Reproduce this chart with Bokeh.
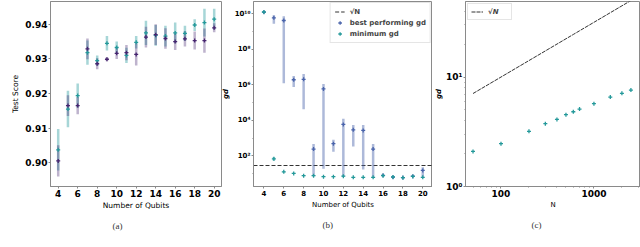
import numpy as np
from bokeh.plotting import figure
from bokeh.layouts import row
from bokeh.models import FixedTicker, Legend, LegendItem, Range1d, Title
from bokeh.embed import file_html
from bokeh.resources import INLINE

# ---------------- data ----------------
qubits = list(range(4, 21))
a_xticks = [4, 6, 8, 10, 12, 14, 16, 18, 20]
a_yticks = [0.90, 0.91, 0.92, 0.93, 0.94]
a_ylabels = {0.90: "0.90", 0.91: "0.91", 0.92: "0.92", 0.93: "0.93", 0.94: "0.94"}

a_purple = [0.9005, 0.9165, 0.9165, 0.9329, 0.9286, 0.9299, 0.9316, 0.9318, 0.9313,
            0.9363, 0.9370, 0.9359, 0.9350, 0.9358, 0.9353, 0.9353, 0.9390]
a_purple_err = [0.0045, 0.0030, 0.0025, 0.0030, 0.0016, 0.0006, 0.0016, 0.0022, 0.0032,
                0.0030, 0.0030, 0.0030, 0.0024, 0.0022, 0.0026, 0.0035, 0.0013]
a_teal = [0.9037, 0.9155, 0.9194, 0.9318, 0.9295, 0.9345, 0.9333, 0.9310, 0.9348,
          0.9375, 0.9368, 0.9366, 0.9375, 0.9374, 0.9398, 0.9405, 0.9415]
a_teal_err = [0.0060, 0.0053, 0.0035, 0.0035, 0.0015, 0.0021, 0.0017, 0.0022, 0.0018,
              0.0035, 0.0030, 0.0030, 0.0030, 0.0022, 0.0017, 0.0040, 0.0030]

b_best = [1.2e10, 5.8e9, 4.1e9, 1.9e6, 2.0e6, 240, 5.8e5, 480, 5.8e3,
          2.9e3, 2.7e3, 240, 8.0, 6.3, 6.0, 7.2, 15]
b_best_lo = [1.1e10, 2.7e9, 1.2e6, 7.4e5, 4.2e4, 7.2, 19, 170, 6.5,
             330, 17, 6.5, 7.0, 6.0, 5.7, 6.6, 5.9]
b_best_hi = [1.3e10, 8.1e9, 7.1e9, 3.1e6, 4.0e6, 460, 1.1e6, 800, 1.2e4,
             5.5e3, 5.5e3, 460, 9.0, 6.7, 6.3, 7.8, 23]
b_min = [1.23e10, 68, 12.6, 10.2, 7.6, 7.6, 6.7, 6.7, 7.2,
         6.2, 6.2, 6.2, 7.6, 6.5, 5.9, 6.9, 6.2]
b_min_lo = [1.15e10, 52, 11.8, 9.6, 7.2, 7.2, 6.4, 6.4, 6.9,
            5.9, 5.9, 5.9, 7.2, 6.2, 5.6, 6.6, 5.9]
b_min_hi = [1.31e10, 87, 13.4, 10.8, 8.0, 8.0, 7.0, 7.0, 7.5,
            6.5, 6.5, 6.5, 8.0, 6.8, 6.2, 7.2, 6.5]
b_sqrtN = [28]
b_yticks = [1e2, 1e4, 1e6, 1e8, 1e10]
b_ylabels = {1e2: "10²", 1e4: "10⁴", 1e6: "10⁶", 1e8: "10⁸", 1e10: "10¹⁰"}

c_N = [50, 100, 200, 300, 400, 500, 600, 700, 1000, 1500, 2000, 2500]
c_gd = [2.09, 2.46, 3.19, 3.75, 4.10, 4.53, 4.82, 5.10, 5.71, 6.56, 7.10, 7.60]
c_xticks = [100, 1000]
c_xlabels = {100: "100", 1000: "1000"}
c_yticks = [1, 10]
c_ylabels = {1: "10⁰", 10: "10¹"}

captions = ["(a)", "(b)", "(c)"]

PURPLE = "#46246f"
TEAL = "#24999a"
BLUE = "#4a64ab"
FRAME = "#8a8a8a"
SANS = "DejaVu Sans"
SERIF = "Liberation Serif"


def base_fig(width, left, right, top, bottom, **kw):
    p = figure(width=width, height=247, output_backend="svg", toolbar_location=None,
               min_border_left=left, min_border_right=right, min_border_top=top,
               min_border_bottom=bottom, **kw)
    p.grid.visible = False
    p.outline_line_color = FRAME
    p.outline_line_width = 1
    p.background_fill_color = "white"
    p.border_fill_color = "white"
    for ax in (p.xaxis, p.yaxis):
        ax.axis_line_color = FRAME
        ax.major_tick_line_color = FRAME
        ax.minor_tick_line_color = FRAME
        ax.major_tick_in = 0
        ax.major_tick_out = 2
        ax.minor_tick_in = 0
        ax.minor_tick_out = 1
        ax.major_label_text_font = SANS
        ax.major_label_text_font_style = "bold"
        ax.major_label_text_color = "black"
        ax.axis_label_text_font = SANS
        ax.axis_label_text_font_style = "normal"
        ax.axis_label_text_color = "black"
        ax.major_label_standoff = 1
    return p


def add_caption(p, text, offset):
    p.add_layout(Title(text=text, align="left", offset=offset, standoff=13,
                       text_font=SERIF, text_font_size="9px", text_font_style="normal",
                       text_color="#333333"), "below")


def markers(p, x, y, color):
    return p.scatter(x, y, marker="cross", size=4, line_width=1.3, color=color)


# ---------------- panel (a) ----------------
pa = base_fig(222, 50, 1, 1, 60, x_range=Range1d(3.21, 20.75), y_range=Range1d(0.8931, 0.9466))
pa.segment(qubits, np.array(a_teal) - np.array(a_teal_err), qubits,
           np.array(a_teal) + np.array(a_teal_err), line_color=TEAL, line_alpha=0.4, line_width=2.5)
pa.segment(qubits, np.array(a_purple) - np.array(a_purple_err), qubits,
           np.array(a_purple) + np.array(a_purple_err), line_color=PURPLE, line_alpha=0.35, line_width=2.5)
markers(pa, qubits, a_teal, TEAL)
markers(pa, qubits, a_purple, PURPLE)
pa.xaxis.ticker = FixedTicker(ticks=a_xticks, minor_ticks=[])
pa.yaxis.ticker = FixedTicker(ticks=a_yticks, minor_ticks=[])
pa.yaxis.major_label_overrides = a_ylabels
pa.xaxis.major_label_text_font_size = "9px"
pa.yaxis.major_label_text_font_size = "9px"
pa.xaxis.axis_label = "Number of Qubits"
pa.yaxis.axis_label = "Test Score"
pa.xaxis.axis_label_text_font_size = "7.5px"
pa.yaxis.axis_label_text_font_size = "7.5px"
pa.xaxis.axis_label_standoff = 1
pa.yaxis.axis_label_standoff = 2
add_caption(pa, captions[0], 62)

# ---------------- panel (b) ----------------
pb = base_fig(216, 37, 0, 1, 58, x_range=Range1d(2.95, 20.98), y_range=Range1d(1.88, 4.8e10),
              y_axis_type="log")
pb.margin = (0, 0, 0, -6)
pb.border_fill_alpha = 0
sq = pb.hspan(y=b_sqrtN, line_color="#333333", line_dash="4 2", line_width=1)
pb.segment(qubits, b_best_lo, qubits, b_best_hi, line_color=BLUE, line_alpha=0.45, line_width=2.5)
pb.segment(qubits, b_min_lo, qubits, b_min_hi, line_color=TEAL, line_alpha=0.45, line_width=2.5)
best_pts = markers(pb, qubits, b_best, BLUE)
min_pts = markers(pb, qubits, b_min, TEAL)
best_leg = pb.vspan(x=[], line_color=BLUE, line_alpha=0.45, line_width=2)
min_leg = pb.vspan(x=[], line_color=TEAL, line_alpha=0.45, line_width=2)
pb.xaxis.ticker = FixedTicker(ticks=a_xticks, minor_ticks=[])
pb.yaxis.ticker = FixedTicker(ticks=b_yticks, minor_ticks=[1e1, 1e3, 1e5, 1e7, 1e9])
pb.yaxis.major_label_overrides = b_ylabels
pb.xaxis.major_label_text_font_size = "7px"
pb.yaxis.major_label_text_font_size = "7px"
pb.xaxis.axis_label = "Number of Qubits"
pb.yaxis.axis_label = "gd"
pb.xaxis.axis_label_text_font_size = "7px"
pb.yaxis.axis_label_text_font_size = "7px"
pb.yaxis.axis_label_text_font_style = "bold italic"
pb.xaxis.axis_label_standoff = 2
pb.yaxis.axis_label_standoff = 2
leg_b = Legend(items=[LegendItem(label="√N", renderers=[sq]),
                      LegendItem(label="best performing gd", renderers=[best_leg, best_pts]),
                      LegendItem(label="minimum gd", renderers=[min_leg, min_pts])],
               location="top_right", margin=1, padding=4, spacing=2,
               glyph_width=10, glyph_height=9, label_height=9, label_standoff=5,
               label_text_font=SANS, label_text_font_style="bold", label_text_font_size="7px",
               border_line_color="#cccccc", border_line_width=1, background_fill_alpha=1)
pb.add_layout(leg_b)
add_caption(pb, captions[1], 69)

# ---------------- panel (c) ----------------
pc = base_fig(208, 33, 0, 1, 61, x_range=Range1d(41.5, 3170), y_range=Range1d(1, 49),
              x_axis_type="log", y_axis_type="log")
ln = pc.line(c_N, np.sqrt(c_N), line_color="#333333", line_dash="4 1", line_width=1)
markers(pc, c_N, c_gd, TEAL)
pc.xaxis.ticker = FixedTicker(ticks=c_xticks,
                              minor_ticks=[50, 60, 70, 80, 90, 200, 300, 400, 500, 600, 700, 800, 900, 2000, 3000])
pc.yaxis.ticker = FixedTicker(ticks=c_yticks, minor_ticks=[2, 3, 4, 5, 6, 7, 8, 9, 20, 30, 40])
pc.xaxis.major_label_overrides = c_xlabels
pc.yaxis.major_label_overrides = c_ylabels
pc.xaxis.major_label_text_font_size = "9px"
pc.yaxis.major_label_text_font_size = "9px"
pc.xaxis.axis_label = "N"
pc.yaxis.axis_label = "gd"
pc.xaxis.axis_label_text_font_size = "7px"
pc.yaxis.axis_label_text_font_size = "7px"
pc.yaxis.axis_label_text_font_style = "bold italic"
pc.xaxis.axis_label_standoff = 1
pc.yaxis.axis_label_standoff = 0
leg_c = Legend(items=[LegendItem(label="√N", renderers=[ln])],
               location="top_left", margin=2, padding=3, spacing=1,
               glyph_width=12, glyph_height=9, label_height=9, label_standoff=5,
               label_text_font=SANS, label_text_font_style="bold italic", label_text_font_size="7px",
               border_line_color="#cccccc", border_line_width=1, background_fill_alpha=1)
pc.add_layout(leg_c)
add_caption(pc, captions[2], 66)

layout = row(pa, pb, pc)
open("out.html", "w").write(file_html(layout, INLINE))
